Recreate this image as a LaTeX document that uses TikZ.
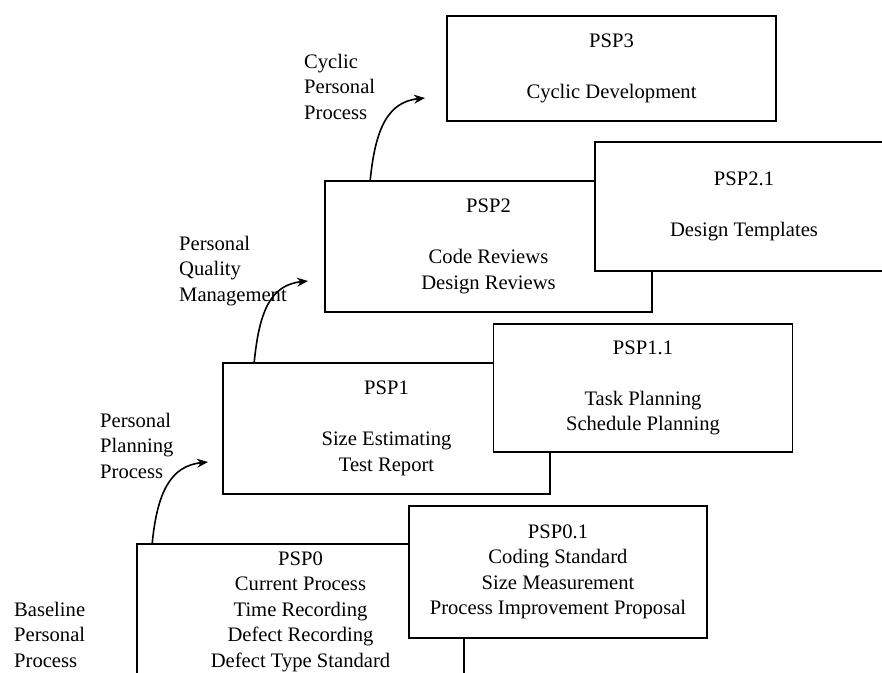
\documentclass[tikz,border=0pt]{standalone}
\usepackage{fontspec}
\setmainfont{Liberation Serif}
\usetikzlibrary{arrows.meta}
\begin{document}
\begin{tikzpicture}[x=1pt,y=-1pt,
  every node/.style={font=\fontsize{20.6}{25.5}\selectfont, inner sep=0pt},
  psbox/.style={draw, line width=1.6pt, fill=white, align=center},
  lbl/.style={align=left, anchor=west},
  steparrow/.style={line width=1.6pt, -{Stealth[length=11pt,width=9pt]}}]
\clip (0,0) rectangle (882,672);
\fill[white] (0,0) rectangle (882,672);
% boxes
\node[psbox, minimum width=329pt, minimum height=105pt] (p3) at (611.5,68.5) {PSP3\\[25.5pt]Cyclic Development};
\node[psbox, minimum width=327pt, minimum height=131pt] (p2) at (488.5,246.5) {PSP2\\[25.5pt]Code Reviews\\Design Reviews};
\node[psbox, minimum width=298pt, minimum height=129pt] (p21) at (744,206.5) {PSP2.1\\[25.5pt]Design Templates};
\node[psbox, minimum width=327pt, minimum height=131pt] (p1) at (386.5,428.5) {PSP1\\[25.5pt]Size Estimating\\Test Report};
\node[psbox, minimum width=299pt, minimum height=128pt] (p11) at (643,388) {PSP1.1\\[25.5pt]Task Planning\\Schedule Planning};
\node[psbox, minimum width=327pt, minimum height=135pt] (p0) at (300.5,611.5) {PSP0\\Current Process\\Time Recording\\Defect Recording\\Defect Type Standard};
\node[psbox, minimum width=298pt, minimum height=132pt] (p01) at (558,572) {PSP0.1\\Coding Standard\\Size Measurement\\Process Improvement Proposal};
% labels
\node[lbl] (l3) at (304,86.5) {Cyclic\\Personal\\Process};
\node[lbl] (l2) at (179,271) {Personal\\Quality\\Management};
\node[lbl] (l1) at (100,445.5) {Personal\\Planning\\Process};
\node[lbl] (l0) at (14,634.5) {Baseline\\Personal\\Process};
% arrow tips
\coordinate (t1) at (208,462);
\coordinate (t2) at (308,281);
\coordinate (t3) at (425,98);
% arrows
\draw[steparrow] ([xshift=16pt]p0.north west) .. controls +(5,-50) and +(-38,4) .. (t1);
\draw[steparrow] ([xshift=32pt]p1.north west) .. controls +(5,-50) and +(-38,4) .. (t2);
\draw[steparrow] ([xshift=46pt]p2.north west) .. controls +(5,-50) and +(-38,4) .. (t3);
\end{tikzpicture}
\end{document}
